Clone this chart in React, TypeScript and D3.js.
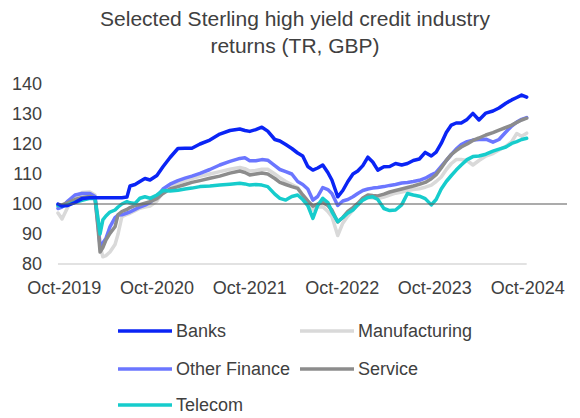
import React from 'react';
import * as d3 from 'd3';

const dates = [
  '2019-09-06','2019-09-22','2019-10-15','2019-11-12','2019-12-10','2020-01-10','2020-01-30','2020-02-11','2020-02-19','2020-03-01',
  '2020-03-13','2020-03-29','2020-04-18','2020-04-30','2020-05-15','2020-06-04','2020-06-16','2020-07-06','2020-07-25','2020-08-14',
  '2020-09-03','2020-09-30','2020-10-24','2020-11-21','2020-12-22','2021-01-19','2021-02-15','2021-03-19','2021-04-27','2021-06-05',
  '2021-07-15','2021-08-23','2021-09-12','2021-10-01','2021-10-25','2021-11-18','2021-12-11','2022-01-08','2022-01-28','2022-02-20',
  '2022-03-16','2022-04-08','2022-04-28','2022-05-18','2022-06-07','2022-06-26','2022-07-16','2022-08-05','2022-08-21','2022-09-13',
  '2022-10-03','2022-10-23','2022-11-12','2022-12-01','2022-12-21','2023-01-10','2023-01-29','2023-02-18','2023-03-14','2023-04-06',
  '2023-04-29','2023-05-23','2023-06-15','2023-07-08','2023-08-01','2023-08-24','2023-09-17','2023-10-06','2023-10-26','2023-11-15',
  '2023-12-05','2023-12-24','2024-01-13','2024-02-05','2024-02-28','2024-03-23','2024-04-19','2024-05-17','2024-06-10','2024-07-07',
  '2024-07-30','2024-08-19','2024-09-07','2024-09-27',
];

const banks = [
  100, 99.3, 99.5, 100.5, 101.8, 102.1, 102.1, 102.1, 102.1, 102.1,
  102.1, 102.1, 102.1, 102.1, 102.1, 102.3, 106, 106.5, 107.5, 108.5,
  108, 109.5, 112.4, 115.5, 118.5, 118.6, 118.6, 120, 121.3, 123.3,
  124.5, 125, 124.5, 124.2, 124.8, 125.6, 124.3, 121.5, 121, 119.8,
  118.5, 117, 116, 112.5, 111.3, 112, 113, 110.5, 108, 102.4,
  104.5, 107.5, 110, 111, 112.8, 115.6, 114, 111.3, 112.4, 112.5,
  113.5, 113, 113.5, 114.5, 115, 117.2, 116, 117.3, 120.2, 123.8,
  126.3, 127, 127, 128.2, 130.2, 128, 130.3, 131, 132, 133.6,
  134.7, 135.5, 136.3, 135.6,
];

const manufacturing = [
  97, 95, 99, 102.5, 103.8, 104, 103, 95, 86, 82.4,
  82.8, 84, 86.5, 90, 95.8, 96.5, 96.9, 97.8, 98.6, 99,
  99.3, 101, 104, 106, 107, 107.8, 108.5, 109.2, 110, 110.8,
  111.6, 112.2, 111.8, 111, 111.2, 111.6, 111.6, 110, 108.8, 107.5,
  106.5, 105.5, 103, 101, 98, 99, 99.1, 97.5, 95.8, 89.5,
  93.6, 96, 98, 99.5, 101.5, 102.2, 102, 101.8, 102.3, 103,
  103.6, 104, 104.5, 104.8, 105.1, 105.6, 106.3, 107.5, 109, 111.5,
  113.5, 114.8, 114.8, 114.5, 113, 114.5, 116, 116.8, 118, 119.2,
  120.8, 123.5, 122.6, 123.6,
];

const otherFinance = [
  98.5, 99, 101, 103, 103.5, 103.5, 102.5, 93, 86, 87,
  88.5, 92.4, 95.5, 96.3, 96.4, 97, 97.4, 98.2, 99, 99.6,
  100.5, 102.5, 105, 106.6, 107.8, 108.6, 109.3, 110.2, 111.5, 113,
  114.2, 115.2, 115.4, 114.4, 114.4, 114.8, 114.6, 112.8, 111.5, 110.8,
  110, 107.5, 106.5, 105, 101.3, 102.5, 105.5, 104.8, 103.5, 99.5,
  101, 101.5, 102.4, 103.5, 104.5, 105, 105.3, 105.5, 105.8, 106.2,
  106.5, 107, 107.2, 107.5, 107.9, 108.6, 109.7, 110.5, 112.5, 114.5,
  116.5, 118.3, 119.8, 120.8, 121.3, 121.5, 121.6, 120.6, 121.5, 124,
  126, 127.3, 128.2, 128.8,
];

const service = [
  99.5, 99.7, 100.5, 101.5, 102.2, 102.5, 102, 92, 84, 85.5,
  88, 90.2, 92.4, 96.5, 97.5, 98.2, 98.8, 99.5, 99.8, 100.3,
  100.8, 101.8, 103.5, 105, 105.8, 106.5, 107.2, 107.8, 108.6, 109.3,
  110.3, 111, 110.5, 109.7, 110, 110.3, 110, 108.5, 107.2, 106.5,
  105.8, 105.2, 103, 101, 99.3, 100, 100.5, 99.5, 98, 94,
  95.5, 97.5, 98.8, 100.2, 102, 103, 102.8, 102.7, 103.3, 104,
  104.5, 105, 105.5, 106, 106.6, 107.2, 108.4, 109.8, 112, 114.5,
  116.5, 117.8, 119, 120, 121.2, 122, 123, 123.8, 124.6, 125.5,
  126.3, 127.2, 128, 128.6,
];

const telecom = [
  99.5, 99.3, 99.8, 100.5, 101.2, 101.9, 101.8, 95, 90, 94.7,
  96, 97.3, 98, 99, 100, 100.8, 100.4, 100.2, 101.9, 102.4,
  101.9, 103, 104.5, 104.3, 104.6, 105, 105.3, 105.8, 106, 106.3,
  106.6, 106.9, 106.7, 106.3, 106.5, 106.3, 105.8, 103.3, 101.9, 101.3,
  102.5, 103, 101.5, 99.5, 95.2, 99.5, 101.9, 100.5, 97.4, 94.1,
  95.5, 97, 98, 99.7, 101.3, 102.2, 102.4, 101.5, 98.5, 97.8,
  98, 99.7, 103.5, 103, 102.6, 101.8, 99.7, 101.5, 105, 107.5,
  109.5, 111.3, 113, 114.8, 115.8, 116, 116.6, 117.6, 118.3, 119,
  120.2, 120.8, 121.5, 121.9,
];

const seriesNames = ['Banks', 'Manufacturing', 'Other Finance', 'Service', 'Telecom'];
const seriesValues = [banks, manufacturing, otherFinance, service, telecom];
const seriesColors = ['#0a24f5', '#d9d9d9', '#6b76ff', '#8c8c8c', '#16cccc'];
const drawOrder = [1, 2, 3, 4, 0];

const yTicks = [80, 90, 100, 110, 120, 130, 140];
const xTickDates = ['2019-10-01', '2020-10-01', '2021-10-01', '2022-10-01', '2023-10-01', '2024-10-01'];
const titleLines = ['Selected Sterling high yield credit industry', 'returns (TR, GBP)'];
const referenceValue = 100;

const FONT = '"Liberation Sans", Arial, sans-serif';
const TEXT = '#404040';

export default function App() {
  const W = 580;
  const H = 418;
  const parse = d3.timeParse('%Y-%m-%d');
  const fmt = d3.timeFormat('%b-%Y');
  const x = d3
    .scaleTime()
    .domain([parse('2019-10-01') as Date, parse('2024-10-01') as Date])
    .range([64.3, 527.7]);
  const y = d3.scaleLinear().domain([80, 140]).range([264, 84]);

  const parsed = dates.map((d) => parse(d) as Date);
  const line = d3
    .line<number>()
    .x((_, i) => x(parsed[i]))
    .y((v) => y(v));

  const xStart = x(parsed[0]);
  const xEnd = x(parsed[parsed.length - 1]);

  const legendRows = [331, 369, 405];
  const legendCols = [118, 300];
  const legendItems = seriesNames.map((name, i) => ({
    name,
    color: seriesColors[i],
    lx: legendCols[i % 2],
    ly: legendRows[Math.floor(i / 2)],
  }));

  return (
    <div style={{ position: 'absolute', left: 0, top: 0, width: W, height: H, background: '#fff' }}>
      <svg width={W} height={H} style={{ display: 'block' }} fontFamily={FONT}>
        <rect width={W} height={H} fill="#fff" />
        {titleLines.map((t, i) => (
          <text
            key={t}
            x={295}
            y={18 + i * 27}
            textAnchor="middle"
            dominantBaseline="central"
            fontSize={21}
            fill={TEXT}
          >
            {t}
          </text>
        ))}
        {yTicks.map((t) => (
          <text key={t} x={42} y={y(t)} textAnchor="end" dominantBaseline="central" fontSize={18} fill={TEXT}>
            {t}
          </text>
        ))}
        <line x1={xStart} x2={xEnd} y1={y(80)} y2={y(80)} stroke="#d9d9d9" strokeWidth={1.5} />
        {xTickDates.map((d) => {
          const dt = parse(d) as Date;
          return (
            <text key={d} x={x(dt)} y={288} textAnchor="middle" dominantBaseline="central" fontSize={18} fill={TEXT}>
              {fmt(dt)}
            </text>
          );
        })}
        {drawOrder.map((i) => (
          <path
            key={seriesNames[i]}
            d={line(seriesValues[i]) || ''}
            fill="none"
            stroke={seriesColors[i]}
            strokeWidth={3.5}
            strokeLinejoin="round"
            strokeLinecap="round"
          />
        ))}
        <line
          x1={xStart}
          x2={567}
          y1={y(referenceValue)}
          y2={y(referenceValue)}
          stroke="#595959"
          strokeWidth={1.2}
        />
        {legendItems.map((it) => (
          <g key={it.name}>
            <line x1={it.lx} x2={it.lx + 54} y1={it.ly} y2={it.ly} stroke={it.color} strokeWidth={3.5} />
            <text x={it.lx + 58} y={it.ly} dominantBaseline="central" fontSize={18} fill={TEXT}>
              {it.name}
            </text>
          </g>
        ))}
      </svg>
    </div>
  );
}
